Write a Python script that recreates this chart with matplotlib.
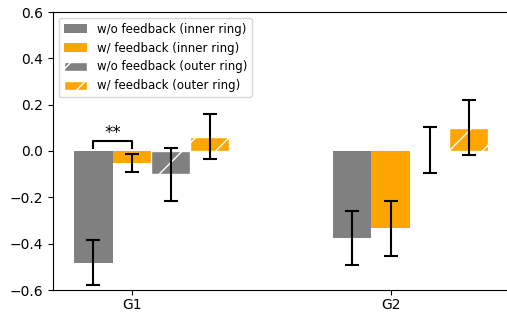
import numpy as np
import matplotlib
matplotlib.use('Agg')
import matplotlib.pyplot as plt

groups = ['G1', 'G2']
inner_wo = [-0.482, -0.374]
inner_wo_err = [0.098, 0.117]
inner_w = [-0.053, -0.334]
inner_w_err = [0.039, 0.120]
outer_wo = [-0.101, 0.005]
outer_wo_err = [0.113, 0.098]
outer_w = [0.062, 0.100]
outer_w_err = [0.097, 0.119]

x = np.arange(len(groups))
w = 0.15
err_kw = dict(ecolor='black', capsize=5, elinewidth=1.5, capthick=1.5)

fig = plt.figure(figsize=(5.07, 3.12), dpi=100)
ax = fig.add_axes([53 / 507, 1 - 290 / 312, 457 / 507, 278 / 312])

ax.bar(x - w, inner_wo, w, yerr=inner_wo_err, color='gray',
       label='w/o feedback (inner ring)', error_kw=err_kw)
ax.bar(x, inner_w, w, yerr=inner_w_err, color='orange',
       label='w/ feedback (inner ring)', error_kw=err_kw)
ax.bar(x + w, outer_wo, w, yerr=outer_wo_err, color='gray', hatch='/',
       edgecolor='white', label='w/o feedback (outer ring)', error_kw=err_kw)
ax.bar(x + 2 * w, outer_w, w, yerr=outer_w_err, color='orange', hatch='/',
       edgecolor='white', label='w/ feedback (outer ring)', error_kw=err_kw)

# significance bracket between inner bars of G1
x1, x2 = x[0] - w, x[0]
ax.plot([x1, x1, x2, x2], [0.015, 0.045, 0.045, 0.015], color='black', lw=1.5)
ax.text((x1 + x2) / 2, 0.04, '**', ha='center', va='bottom', fontsize=12)

ax.set_xticks(x)
ax.set_xticklabels(groups)
ax.tick_params(axis='x', pad=2)
ax.set_ylim(-0.6, 0.6)
ax.set_xlim(-0.305, 1.46)
ax.legend(loc='upper left', fontsize=8.5, handleheight=0.8)

fig.savefig('out.png', dpi=100)
